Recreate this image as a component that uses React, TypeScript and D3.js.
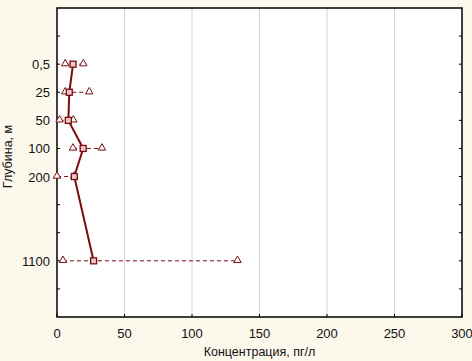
import React, { useEffect, useRef } from 'react';
import * as d3 from 'd3';

// depth slots along the y axis (blank slots are empty rows)
const depthSlots = ['', '0,5', '25', '50', '100', '200', '', '', '1100', ''];
const depths = ['0,5', '25', '50', '100', '200', '1100'];
const meanValues = [11.9, 9.1, 8.4, 19.4, 12.8, 27.1];
const minValues = [6.1, 6.1, 1.9, 11.8, 0, 4.4];
const maxValues = [19.5, 23.9, 12.1, 33.3, 12.8, 133.7];
const xTicks = [0, 50, 100, 150, 200, 250, 300];

const W = 472;
const H = 361;
const margin = { top: 8, right: 10, bottom: 44, left: 57 };

const App = () => {
  const ref = useRef<SVGSVGElement>(null);

  useEffect(() => {
    const svg = d3.select(ref.current);
    svg.selectAll('*').remove();

    const width = W - margin.left - margin.right;
    const height = H - margin.top - margin.bottom;
    const dark = '#780c10';

    const x = d3.scaleLinear().domain([0, 300]).range([0, width]);
    const y = d3
      .scalePoint<number>()
      .domain(d3.range(depthSlots.length))
      .range([0, height])
      .padding(1);
    const yOf = (d: string) => y(depthSlots.indexOf(d)) as number;

    svg.append('rect').attr('width', W).attr('height', H).attr('fill', '#fdf8ec');

    const g = svg
      .append('g')
      .attr('transform', `translate(${margin.left},${margin.top})`);

    g.append('rect').attr('width', width).attr('height', height).attr('fill', '#fff');

    // vertical grid
    g.selectAll('.grid')
      .data(xTicks.slice(1, -1))
      .enter()
      .append('line')
      .attr('x1', d => x(d))
      .attr('x2', d => x(d))
      .attr('y1', 0)
      .attr('y2', height)
      .attr('stroke', '#d4d4d4');

    // x axis ticks + labels
    g.selectAll('.xtick')
      .data(xTicks)
      .enter()
      .append('text')
      .attr('x', d => x(d))
      .attr('y', height + 21)
      .attr('text-anchor', 'middle')
      .style('font', '13px "Liberation Sans", Arial, sans-serif')
      .attr('fill', '#111')
      .text(d => d);

    g.selectAll('.xtm')
      .data(xTicks)
      .enter()
      .append('line')
      .attr('x1', d => x(d))
      .attr('x2', d => x(d))
      .attr('y1', height)
      .attr('y2', height - 3)
      .attr('stroke', '#000');

    // y ticks (inward on both sides) + labels
    const slots = d3.range(depthSlots.length);
    g.selectAll('.ytm')
      .data(slots)
      .enter()
      .append('line')
      .attr('x1', 0)
      .attr('x2', 3)
      .attr('y1', d => y(d) as number)
      .attr('y2', d => y(d) as number)
      .attr('stroke', '#000');
    g.selectAll('.ytm2')
      .data(slots)
      .enter()
      .append('line')
      .attr('x1', width)
      .attr('x2', width - 3)
      .attr('y1', d => y(d) as number)
      .attr('y2', d => y(d) as number)
      .attr('stroke', '#000');

    g.selectAll('.ylab')
      .data(slots)
      .enter()
      .append('text')
      .attr('x', -7)
      .attr('y', d => (y(d) as number) + 5)
      .attr('text-anchor', 'end')
      .style('font', '13px "Liberation Sans", Arial, sans-serif')
      .attr('fill', '#111')
      .text(d => depthSlots[d]);

    // frame
    g.append('rect')
      .attr('width', width)
      .attr('height', height)
      .attr('fill', 'none')
      .attr('stroke', '#000')
      .attr('stroke-width', 1.5);

    // axis titles
    svg
      .append('text')
      .attr('x', margin.left + width / 2)
      .attr('y', H - 5)
      .attr('text-anchor', 'middle')
      .style('font', '12.5px "Liberation Sans", Arial, sans-serif')
      .attr('fill', '#111')
      .text('Концентрация, пг/л');

    svg
      .append('text')
      .attr('transform', `translate(12,${margin.top + height / 2 - 6}) rotate(-90)`)
      .attr('text-anchor', 'middle')
      .style('font', '12.5px "Liberation Sans", Arial, sans-serif')
      .attr('fill', '#111')
      .text('Глубина, м');

    // min-max dashed ranges
    g.selectAll('.range')
      .data(depths)
      .enter()
      .append('line')
      .attr('x1', (d, i) => x(minValues[i]))
      .attr('x2', (d, i) => x(maxValues[i]))
      .attr('y1', d => yOf(d))
      .attr('y2', d => yOf(d))
      .attr('stroke', dark)
      .attr('stroke-dasharray', '4,3');

    // mean line
    const line = d3
      .line<string>()
      .x((d, i) => x(meanValues[i]))
      .y(d => yOf(d));
    g.append('path')
      .datum(depths)
      .attr('d', line)
      .attr('fill', 'none')
      .attr('stroke', dark)
      .attr('stroke-width', 2);

    // triangles at min and max
    const tri = d3.symbol().type(d3.symbolTriangle).size(24);
    const extremes = depths.flatMap((d, i) => [
      { d, v: minValues[i] },
      { d, v: maxValues[i] },
    ]);
    g.selectAll('.tri')
      .data(extremes)
      .enter()
      .append('path')
      .attr('d', tri)
      .attr('transform', p => `translate(${x(p.v)},${yOf(p.d) - 0.5})`)
      .attr('fill', '#fff')
      .attr('stroke', dark)
      .attr('stroke-width', 1);

    // squares at means
    g.selectAll('.sq')
      .data(depths)
      .enter()
      .append('rect')
      .attr('x', (d, i) => x(meanValues[i]) - 3)
      .attr('y', d => yOf(d) - 3)
      .attr('width', 6)
      .attr('height', 6)
      .attr('fill', '#e9c9c9')
      .attr('stroke', dark)
      .attr('stroke-width', 1.3);
  }, []);

  return <svg ref={ref} width={W} height={H} style={{ display: 'block', position: 'absolute', left: 0, top: 0 }} />;
};

export default App;
